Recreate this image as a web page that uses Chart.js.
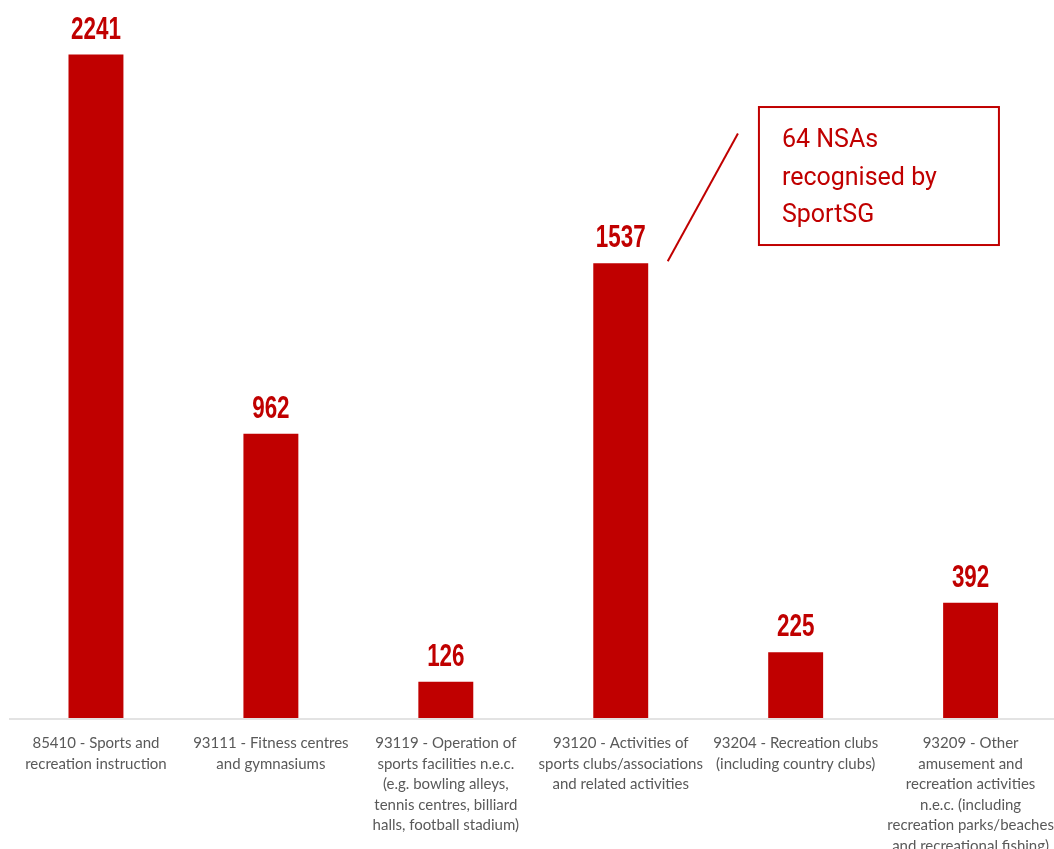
<!DOCTYPE html>
<html>
<head>
<meta charset="utf-8">
<script src="https://cdn.jsdelivr.net/npm/chart.js@4.4.1/dist/chart.umd.min.js"></script>
<style>
  html, body { margin: 0; padding: 0; background: #fff; overflow: hidden; }
  #ssicChart { display: block; }
</style>
</head>
<body>
<canvas id="ssicChart" width="1060" height="849"></canvas>
<script>
const categories = [
  ['85410 - Sports and', 'recreation instruction'],
  ['93111 - Fitness centres', 'and gymnasiums'],
  ['93119 - Operation of', 'sports facilities n.e.c.', '(e.g. bowling alleys,', 'tennis centres, billiard', 'halls, football stadium)'],
  ['93120 - Activities of', 'sports clubs/associations', 'and related activities'],
  ['93204 - Recreation clubs', '(including country clubs)'],
  ['93209 - Other', 'amusement and', 'recreation activities', 'n.e.c. (including', 'recreation parks/beaches', 'and recreational fishing)']
];
const counts = [2241, 962, 126, 1537, 225, 392];
const noteLines = ['64 NSAs', 'recognised by', 'SportSG'];
const noteIndex = 3;

const red = '#C00000';

// value labels above bars, squeezed to look condensed
const valueLabels = {
  id: 'valueLabels',
  afterDatasetsDraw(chart) {
    const ctx = chart.ctx;
    const meta = chart.getDatasetMeta(0);
    ctx.save();
    ctx.fillStyle = red;
    ctx.font = 'bold 32px "Liberation Sans Narrow", "Liberation Sans", sans-serif';
    ctx.textAlign = 'center';
    ctx.textBaseline = 'alphabetic';
    meta.data.forEach((bar, i) => {
      ctx.save();
      ctx.translate(bar.x, bar.y - 16);
      ctx.scale(0.7, 1);
      ctx.fillText(String(counts[i]), 0, 0);
      ctx.restore();
    });
    ctx.restore();
  }
};

// callout box pointing at the 93120 bar
const callout = {
  id: 'callout',
  afterDraw(chart) {
    const ctx = chart.ctx;
    const x = chart.scales.x, y = chart.scales.y;
    const barTop = y.getPixelForValue(counts[noteIndex]);
    const x0 = x.getPixelForValue(noteIndex) + 47, y0 = barTop - 2;
    const x1 = x.getPixelForValue(noteIndex + 0.67), y1 = y.getPixelForValue(1975);
    const bx = x.getPixelForValue(noteIndex + 0.79), by = y.getPixelForValue(2064);
    const bw = 240, bh = 138;
    ctx.save();
    ctx.strokeStyle = red;
    ctx.lineWidth = 2;
    ctx.beginPath();
    ctx.moveTo(x0, y0);
    ctx.lineTo(x1, y1);
    ctx.stroke();
    ctx.strokeRect(bx, by, bw, bh);
    ctx.fillStyle = red;
    ctx.font = '25px Roboto, sans-serif';
    ctx.textAlign = 'left';
    ctx.textBaseline = 'alphabetic';
    noteLines.forEach((t, i) => ctx.fillText(t, bx + 23, by + 40 + i * 37.5));
    ctx.restore();
  }
};

new Chart(document.getElementById('ssicChart').getContext('2d'), {
  type: 'bar',
  data: {
    labels: categories,
    datasets: [{
      data: counts,
      backgroundColor: red,
      categoryPercentage: 1,
      barPercentage: 0.314
    }]
  },
  options: {
    responsive: false,
    animation: false,
    layout: { padding: { left: 8.5, right: 1.5, top: 7.4, bottom: 0 } },
    plugins: {
      legend: { display: false },
      tooltip: { enabled: false }
    },
    scales: {
      x: {
        grid: { display: false },
        border: { display: false },
        ticks: {
          color: '#595959',
          font: { family: 'Lato, "Open Sans", sans-serif', size: 15, lineHeight: 1.37 },
          padding: 6,
          maxRotation: 0,
          autoSkip: false
        },
        afterFit(scale) { scale.height = 130; }
      },
      y: {
        display: true,
        min: 0,
        max: 2400,
        ticks: { display: false, stepSize: 500 },
        border: { display: false },
        grid: {
          drawTicks: false,
          lineWidth: 2,
          color: (c) => (c.tick && c.tick.value % 500 === 0) ? '#e3e3e3' : 'rgba(0,0,0,0)'
        },
        afterFit(scale) { scale.width = 0; }
      }
    }
  },
  plugins: [valueLabels, callout]
});
</script>
</body>
</html>
